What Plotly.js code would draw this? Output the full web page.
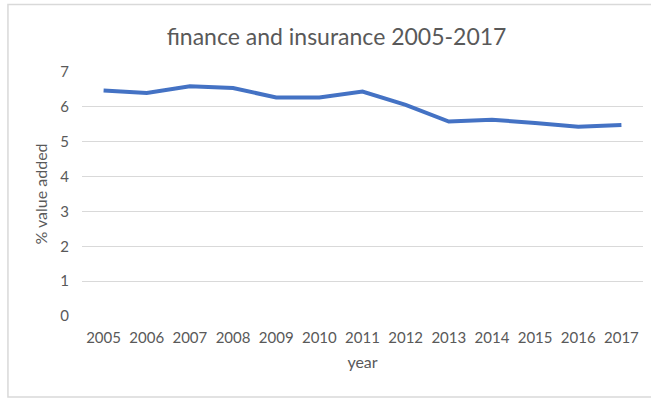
<!DOCTYPE html>
<html>
<head>
<meta charset="utf-8">
<script src="https://cdn.plot.ly/plotly-3.0.1.min.js"></script>
<style>html,body{margin:0;padding:0;background:#fff;}#chart{width:651px;height:401px;}</style>
</head>
<body>
<div id="chart"></div>
<script>
const years = ["2005","2006","2007","2008","2009","2010","2011","2012","2013","2014","2015","2016","2017"];
const valueAdded = [6.47, 6.40, 6.59, 6.54, 6.27, 6.27, 6.44, 6.06, 5.58, 5.63, 5.54, 5.43, 5.48];
const yTicks = [0, 1, 2, 3, 4, 5, 6, 7];

const textColor = "#595959";
const fontFam = "Lato, 'Open Sans', sans-serif";

const trace = {
  x: years,
  y: valueAdded,
  type: "scatter",
  mode: "lines",
  line: {color: "#4472C4", width: 4},
  hoverinfo: "x+y"
};

const layout = {
  width: 651,
  height: 401,
  margin: {l: 82, r: 8, t: 72, b: 85},
  paper_bgcolor: "#ffffff",
  plot_bgcolor: "#ffffff",
  showlegend: false,
  font: {family: fontFam, color: textColor, size: 15},
  title: {
    text: "finance and insurance 2005-2017",
    font: {family: fontFam, size: 23, color: textColor},
    x: 0.517, xanchor: "center",
    y: 0.908, yanchor: "middle"
  },
  xaxis: {
    type: "category",
    range: [-0.5, years.length - 0.5],
    tickvals: years,
    ticktext: years,
    showgrid: false,
    zeroline: false,
    showline: false,
    ticks: "",
    ticklabelstandoff: 11,
    tickfont: {family: fontFam, size: 15, color: textColor},
    title: {text: "year", font: {family: fontFam, size: 16, color: textColor}, standoff: 11}
  },
  yaxis: {
    range: [0, 7],
    tickvals: yTicks,
    showgrid: true,
    gridcolor: "#d9d9d9",
    gridwidth: 1,
    zeroline: false,
    showline: false,
    ticks: "",
    ticklabelstandoff: 12,
    tickfont: {family: fontFam, size: 15, color: textColor},
    title: {text: "% value added", font: {family: fontFam, size: 16, color: textColor}, standoff: 8}
  },
  shapes: [
    {type: "rect", xref: "paper", yref: "paper",
     x0: -0.132, x1: 1.02, y0: -0.332, y1: 1.277,
     line: {color: "#d9d9d9", width: 1.5}, fillcolor: "rgba(0,0,0,0)", layer: "below"}
  ]
};

Plotly.newPlot("chart", [trace], layout, {displayModeBar: false, staticPlot: true});
</script>
</body>
</html>
